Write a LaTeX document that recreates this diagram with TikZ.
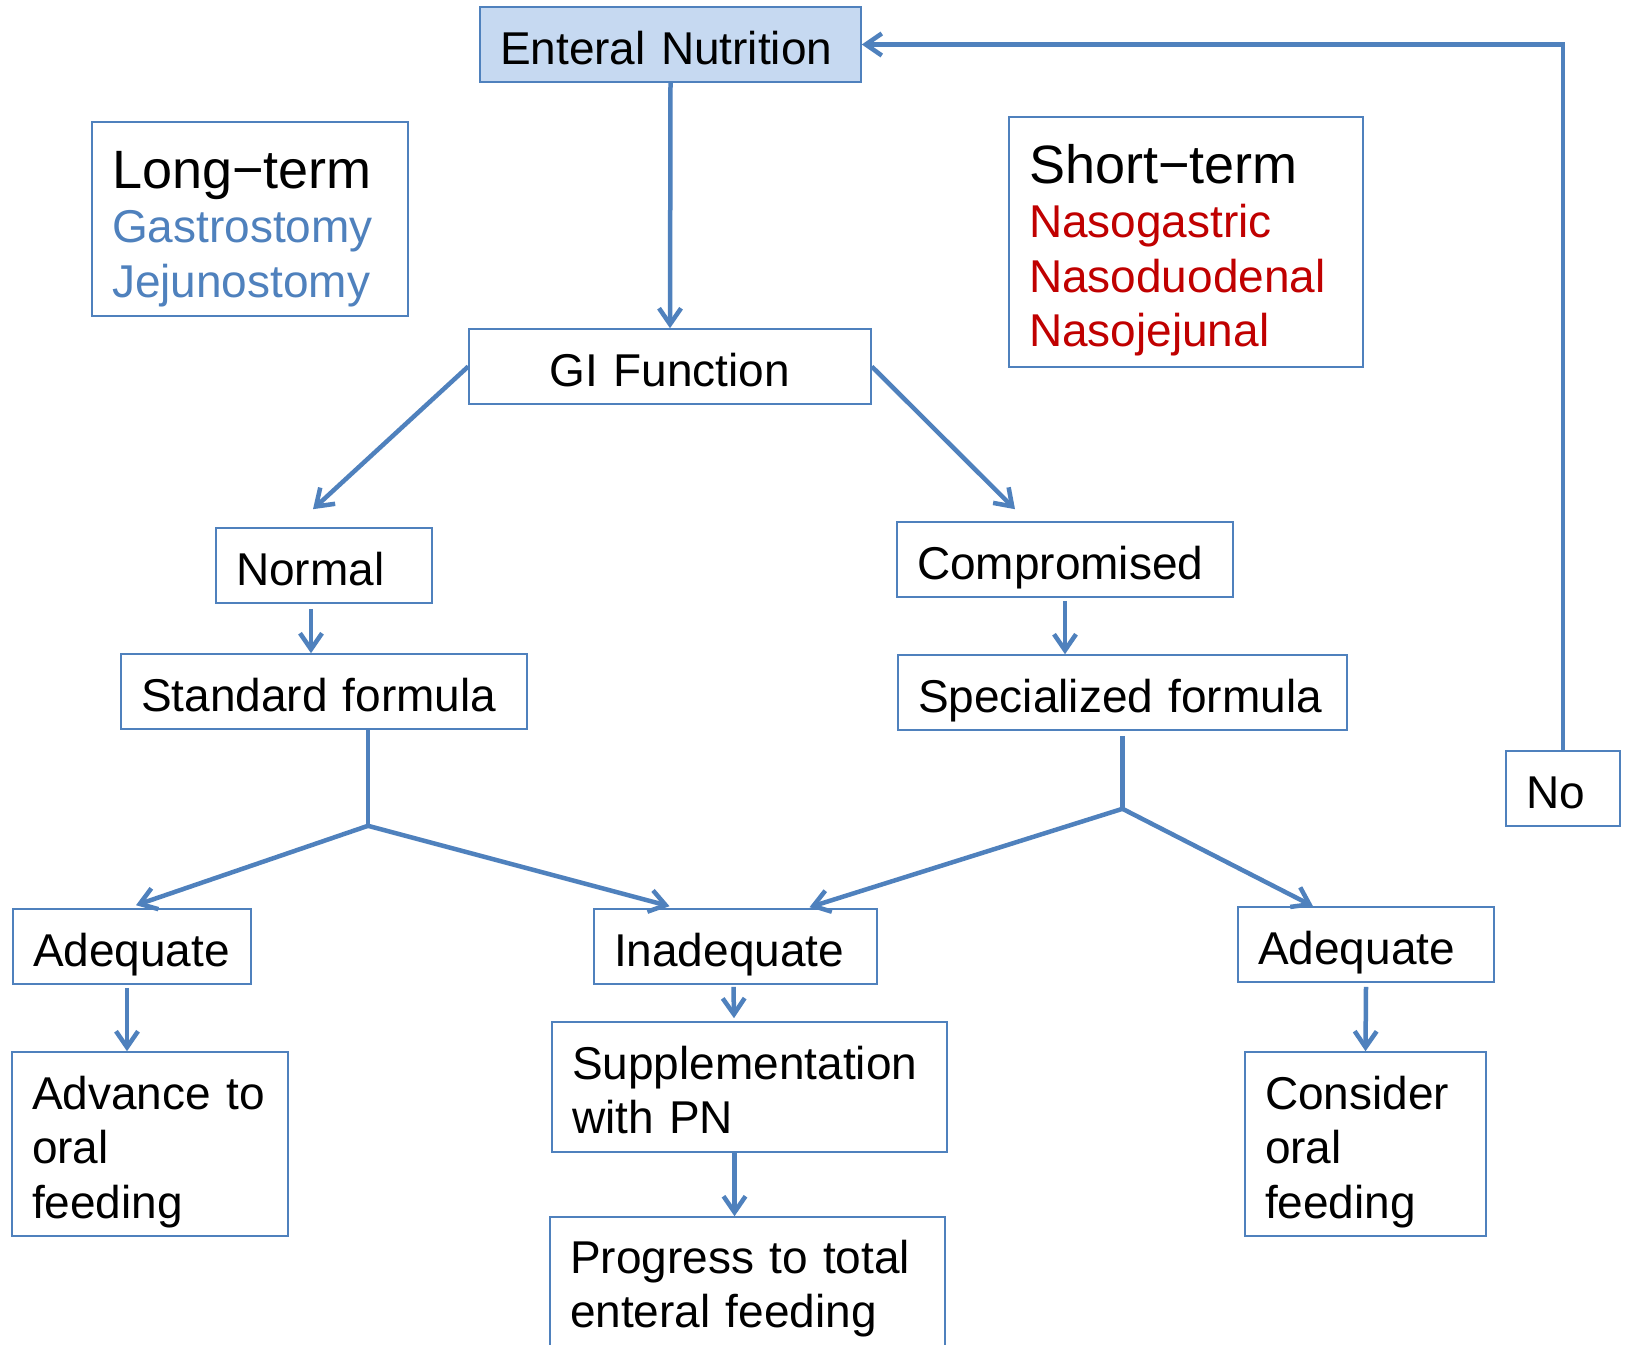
\documentclass[tikz,border=0pt]{standalone}
\usepackage{fontspec}
\setmainfont{Liberation Sans}
\usetikzlibrary{arrows.meta,calc}
\definecolor{bblue}{HTML}{4F81BD}
\definecolor{enfill}{HTML}{C6D9F1}
\definecolor{nred}{HTML}{C00000}
\begin{document}
\begin{tikzpicture}[x=1pt,y=-1pt,
  bx/.style={draw=bblue, line width=1.6pt, inner xsep=20pt, inner ysep=0pt, align=left,
    font=\fontsize{46}{54.5}\selectfont, text=black},
  one/.style={bx, minimum height=75pt, text height=57.5pt, text depth=17.5pt},
  arr/.style={draw=bblue, line width=4.5pt, -{Straight Barb[length=16pt,width=22pt]}},
  ln/.style={draw=bblue, line width=4.5pt}]
\useasboundingbox (0,0) rectangle (1627,1344);
\clip (0,0) rectangle (1627,1344);
\fill[white] (0,0) rectangle (1627,1344);

% boxes
\node[one, fill=enfill, minimum width=381pt, text width=341pt] (EN) at (670.5,44.5) {Enteral Nutrition};
\node[bx, minimum width=316pt, minimum height=194pt, text width=276pt, text height=66pt, text depth=128pt] (LT) at (250,219)
  {{\fontsize{54}{55}\selectfont Long−term}\\\textcolor{bblue}{Gastrostomy}\\\textcolor{bblue}{Jejunostomy}};
\node[bx, minimum width=354pt, minimum height=250pt, text width=314pt, text height=66pt, text depth=184pt] (ST) at (1186,242)
  {{\fontsize{54}{55}\selectfont Short−term}\\\textcolor{nred}{Nasogastric}\\\textcolor{nred}{Nasoduodenal}\\\textcolor{nred}{Nasojejunal}};
\node[one, align=center, minimum width=402pt, text width=362pt] (GI) at (670,366.5) {GI Function};
\node[one, minimum width=216pt, text width=176pt] (NO) at (324,565.5) {Normal};
\node[one, minimum width=336pt, text width=296pt] (CO) at (1065,559.5) {Compromised};
\node[one, minimum width=406pt, text width=366pt] (SF) at (324,691.5) {Standard formula};
\node[one, minimum width=449pt, text width=409pt] (SP) at (1122.5,692.5) {Specialized formula};
\node[one, minimum width=114pt, text width=74pt] (NN) at (1563,788.5) {No};
\node[one, minimum width=238pt, text width=198pt] (AL) at (132,946.5) {Adequate};
\node[one, minimum width=283pt, text width=243pt] (IN) at (735.5,946.5) {Inadequate};
\node[one, minimum width=256pt, text width=216pt] (AR) at (1366,944.5) {Adequate};
\node[bx, minimum width=276pt, minimum height=184pt, text width=236pt, text height=57pt, text depth=127pt] (AV) at (150,1144) {Advance to\\oral\\feeding};
\node[bx, minimum width=395pt, minimum height=130pt, text width=355pt, text height=57pt, text depth=73pt] (SU) at (749.5,1087) {Supplementation\\with PN};
\node[bx, minimum width=395pt, minimum height=145pt, text width=355pt, text height=56pt, text depth=89pt] (PR) at (747.5,1289.5) {Progress to total\\enteral feeding};
\node[bx, minimum width=241pt, minimum height=184pt, text width=201pt, text height=57pt, text depth=127pt] (CN) at (1365.5,1144) {Consider\\oral\\feeding};

% connectors
\draw[arr] (EN.south) -- (GI.north);
\draw[arr] (GI.west) -- ($(NO.north)+(-11,-18)$);
\draw[arr] (GI.east) -- ($(CO.north)+(-50,-12)$);
\draw[arr] ($(NO.south)+(-13,5)$) -- ($(SF.north)+(-13,0)$);
\draw[arr] ($(CO.south)+(0,3)$) -- ($(SP.north)+(-57.5,0)$);

\coordinate (sJ) at ($(SF.south)+(44,96)$);
\draw[ln] ($(SF.south)+(44,0)$) -- (sJ);
\draw[arr] (sJ) -- ($(AL.north)+(4,-3)$);
\draw[arr] (sJ) -- ($(IN.north)+(-66,-2)$);

\coordinate (pJ) at ($(SP.south)+(0,78)$);
\draw[ln] ($(SP.south)+(0,5)$) -- (pJ);
\draw[arr] (pJ) -- ($(IN.north)+(74,-1)$);
\draw[arr] (pJ) -- ($(AR.north)+(-53,0)$);

\draw[arr] ($(AL.south)+(-5,3)$) -- ($(AV.north)+(-23,0)$);
\draw[arr] ($(IN.south)+(-2,2)$) -- ($(SU.north)+(-15.5,-3)$);
\draw[arr] ($(SU.south)+(-15,0)$) -- ($(PR.north)+(-13,0)$);
\draw[arr] ($(AR.south)+(0,4)$) -- (CN.north);
\draw[arr] (NN.north) |- (EN.east);
\end{tikzpicture}
\end{document}
